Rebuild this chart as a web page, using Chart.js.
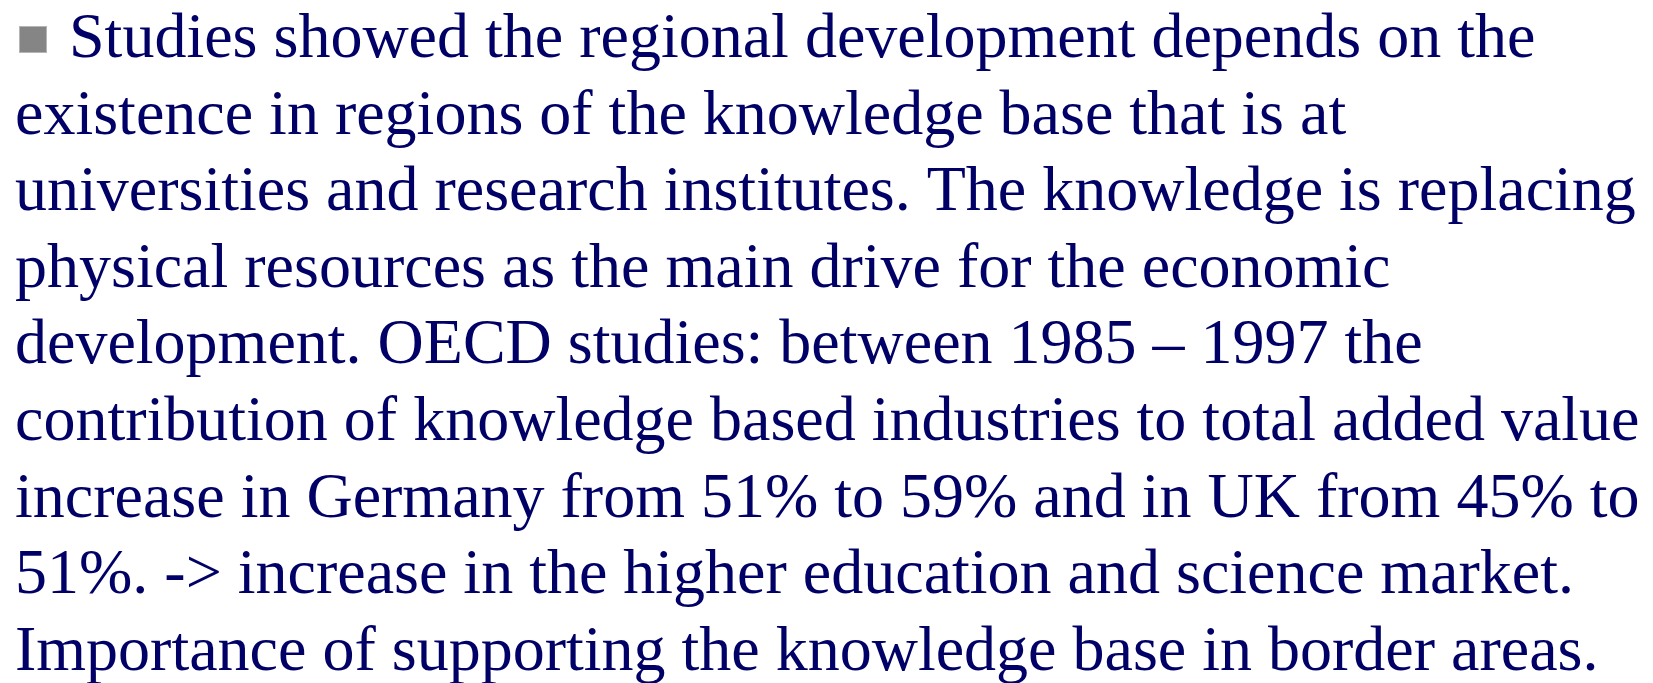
<!DOCTYPE html>
<html>
<head>
<meta charset="utf-8">
<title>Knowledge base slide</title>
<script src="https://cdn.jsdelivr.net/npm/chart.js@4.4.1/dist/chart.umd.min.js"></script>
<style>
    html, body { margin: 0; padding: 0; background: #ffffff; }
    #wrap { width: 1653px; height: 683px; position: relative; }
    #fontProbe { position: absolute; left: -9999px; top: 0; font: 64px "Liberation Serif"; }
</style>
</head>
<body>
<div id="wrap"><canvas id="slide"></canvas></div>
<span id="fontProbe">Studies</span>
<script>
// slide text, one entry per printed line
const bulletLines = [
    'Studies showed the regional development depends on the',
    'existence in regions of the knowledge base that is at',
    'universities and research institutes. The knowledge is replacing',
    'physical resources as the main drive for the economic',
    'development. OECD studies: between 1985 \u2013 1997 the',
    'contribution of knowledge based industries to total added value',
    'increase in Germany from 51% to 59% and in UK from 45% to',
    '51%. -> increase in the higher education and science market.',
    'Importance of supporting the knowledge base in border areas.'
];

const textColor = '#000066';
const bulletColor = '#858585';
const textFont = '64px "Liberation Serif"';

/**
 * Draws the bullet and the paragraph lines on the chart canvas
 */
const slideTextPlugin = {
    id: 'slideText',
    afterDraw(chart) {
        const ctx = chart.ctx;
        ctx.save();

        // square bullet
        ctx.fillStyle = bulletColor;
        ctx.fillRect(19, 26, 28, 27);
        ctx.strokeStyle = '#b5b5b5';
        ctx.lineWidth = 1;
        ctx.strokeRect(19.5, 26.5, 27, 26);

        ctx.font = textFont;
        ctx.fillStyle = textColor;
        ctx.textBaseline = 'alphabetic';
        ctx.textAlign = 'left';

        bulletLines.forEach((line, i) => {
            const x = i === 0 ? 69 : 15;
            const y = 57 + i * 76.6;
            ctx.fillText(line, x, y);
        });
        ctx.restore();
    }
};

function buildChart() {
    new Chart(document.getElementById('slide'), {
        type: 'scatter',
        data: { datasets: [] },
        options: {
            responsive: true,
            maintainAspectRatio: false,
            animation: false,
            layout: { padding: 0 },
            scales: {
                x: { display: false },
                y: { display: false }
            },
            plugins: {
                legend: { display: false },
                tooltip: { enabled: false },
                title: { display: false }
            }
        },
        plugins: [slideTextPlugin]
    });
}

document.fonts.load(textFont).then(buildChart, buildChart);
</script>
</body>
</html>
